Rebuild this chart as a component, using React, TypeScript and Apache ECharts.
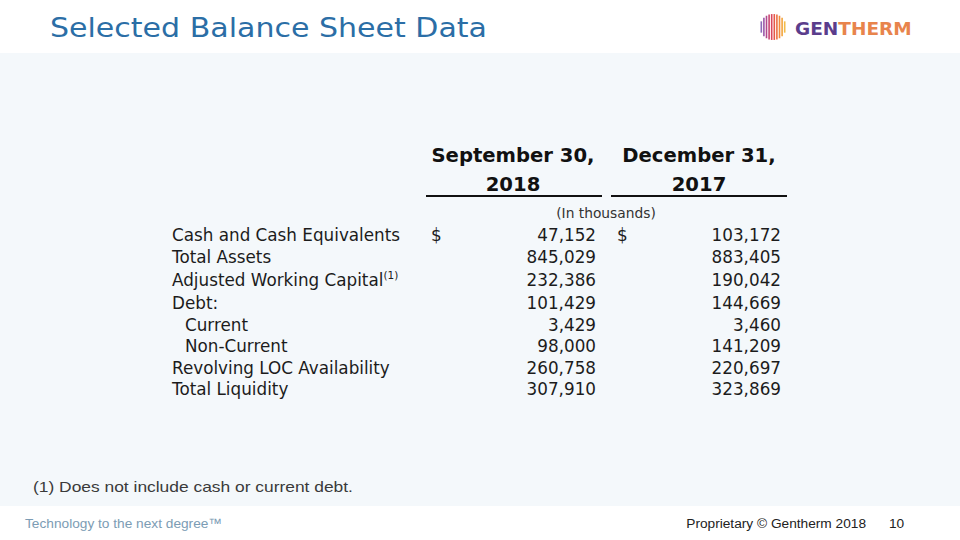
import React, { useEffect, useRef } from "react";
import * as echarts from "echarts";

// ---------- data ----------
const title = "Selected Balance Sheet Data";
const columnHeaders = ["September 30,", "December 31,"];
const columnYears = ["2018", "2017"];
const unitNote = "(In thousands)";
const rowLabels = [
  "Cash and Cash Equivalents",
  "Total Assets",
  "Adjusted Working Capital",
  "Debt:",
  "Current",
  "Non-Current",
  "Revolving LOC Availability",
  "Total Liquidity",
];
const indentedRows = ["Current", "Non-Current"];
const footnotedRows = ["Adjusted Working Capital"];
const dollarRows = ["Cash and Cash Equivalents"];
const sep2018 = [47152, 845029, 232386, 101429, 3429, 98000, 260758, 307910];
const dec2017 = [103172, 883405, 190042, 144669, 3460, 141209, 220697, 323869];
const footnote = "(1) Does not include cash or current debt.";
const tagline = "Technology to the next degree\u2122";
const copyright = "Proprietary \u00A9 Gentherm 2018";
const pageNumber = "10";
const brandA = "GEN";
const brandB = "THERM";

// ---------- layout ----------
const rowY = [235, 257, 280, 303, 325, 346, 368, 389];
const labelX = 172;
const indentX = 185;
const col1Right = 596;
const col2Right = 781;
const col1Dollar = 431;
const col2Dollar = 617;
const tableFont = "'DejaVu Sans', Verdana, sans-serif";
const tableColor = "#1c1c1c";
const tableSize = 16.8;

const fmt = (v: number) => v.toLocaleString("en-US");

function buildGraphics() {
  const g: any[] = [];
  // backgrounds
  g.push({ type: "rect", shape: { x: 0, y: 0, width: 960, height: 540 }, style: { fill: "#ffffff" }, silent: true });
  g.push({ type: "rect", shape: { x: 0, y: 53, width: 960, height: 453 }, style: { fill: "#f4f8fb" }, silent: true });

  // title
  g.push({
    type: "text", x: 50, y: 28, scaleX: 1.155,
    style: { text: title, fill: "#2b6ea6", font: "normal 26px 'DejaVu Sans', sans-serif", verticalAlign: "middle", textAlign: "left" },
  });

  // logo sphere: vertical stripes
  const cx = 773, cy = 27, R = 13;
  const stripeColors = ["#8a6bb8", "#9a55a8", "#b04a8e", "#c84572", "#d9485c", "#e5584a", "#ec6f42", "#f08a3c", "#f2a43c", "#f3bb48"];
  const n = stripeColors.length;
  for (let i = 0; i < n; i++) {
    const dx = -R + (2 * R * (i + 0.5)) / n;
    const h = Math.sqrt(Math.max(0, R * R - dx * dx));
    g.push({
      type: "line",
      shape: { x1: cx + dx, y1: cy - h, x2: cx + dx, y2: cy + h },
      style: { stroke: stripeColors[i], lineWidth: 1.6 },
    });
  }
  g.push({
    type: "text", x: 795, y: 28,
    style: {
      text: `{a|${brandA}}{b|${brandB}}`,
      verticalAlign: "middle",
      rich: {
        a: { fill: "#5b3d8c", font: "bold 18.5px 'DejaVu Sans', sans-serif" },
        b: { fill: "#e8844c", font: "bold 18.5px 'DejaVu Sans', sans-serif" },
      },
    },
  });

  // table header
  const centers = [513, 699];
  const lineSpans = [[426, 602], [611, 787]];
  for (let c = 0; c < 2; c++) {
    g.push({
      type: "text", x: centers[c], y: 155,
      style: { text: columnHeaders[c], fill: "#111", font: `bold 19.6px ${tableFont}`, textAlign: "center", verticalAlign: "middle" },
    });
    g.push({
      type: "text", x: centers[c], y: 184,
      style: { text: columnYears[c], fill: "#111", font: `bold 19.6px ${tableFont}`, textAlign: "center", verticalAlign: "middle" },
    });
    g.push({
      type: "line",
      shape: { x1: lineSpans[c][0], y1: 196, x2: lineSpans[c][1], y2: 196 },
      style: { stroke: "#111", lineWidth: 2 },
    });
  }
  g.push({
    type: "text", x: 606, y: 213,
    style: { text: unitNote, fill: "#333", font: `13.8px ${tableFont}`, textAlign: "center", verticalAlign: "middle" },
  });

  // rows
  rowLabels.forEach((label, i) => {
    const y = rowY[i];
    const x = indentedRows.includes(label) ? indentX : labelX;
    const text = footnotedRows.includes(label) ? `${label}{s|(1)}` : label;
    g.push({
      type: "text", x, y,
      style: {
        text, fill: tableColor, font: `${tableSize}px ${tableFont}`, textAlign: "left", verticalAlign: "middle",
        rich: { s: { font: `10.5px ${tableFont}`, fill: tableColor, verticalAlign: "top", padding: [0, 0, 10, 0] } },
      },
    });
    g.push({
      type: "text", x: col1Right, y,
      style: { text: fmt(sep2018[i]), fill: tableColor, font: `${tableSize}px ${tableFont}`, textAlign: "right", verticalAlign: "middle" },
    });
    g.push({
      type: "text", x: col2Right, y,
      style: { text: fmt(dec2017[i]), fill: tableColor, font: `${tableSize}px ${tableFont}`, textAlign: "right", verticalAlign: "middle" },
    });
    if (dollarRows.includes(label)) {
      [col1Dollar, col2Dollar].forEach((dx) => {
        g.push({
          type: "text", x: dx, y,
          style: { text: "$", fill: tableColor, font: `${tableSize}px ${tableFont}`, textAlign: "left", verticalAlign: "middle" },
        });
      });
    }
  });

  // footnote
  g.push({
    type: "text", x: 33, y: 486, scaleX: 1.16,
    style: { text: footnote, fill: "#3a3a3a", font: "15px 'Liberation Sans', Arial, sans-serif", textAlign: "left", verticalAlign: "middle" },
  });

  // footer
  g.push({
    type: "text", x: 25, y: 523,
    style: { text: tagline, fill: "#7c9cb4", font: "13.7px 'Liberation Sans', Arial, sans-serif", textAlign: "left", verticalAlign: "middle" },
  });
  g.push({
    type: "text", x: 866, y: 523,
    style: { text: copyright, fill: "#222", font: "13.7px 'Liberation Sans', Arial, sans-serif", textAlign: "right", verticalAlign: "middle" },
  });
  g.push({
    type: "text", x: 889, y: 523,
    style: { text: pageNumber, fill: "#222", font: "13.7px 'Liberation Sans', Arial, sans-serif", textAlign: "left", verticalAlign: "middle" },
  });
  return g;
}

export default function App() {
  const ref = useRef<HTMLDivElement>(null);
  useEffect(() => {
    document.body.style.margin = "0";
    if (!ref.current) return;
    const chart = echarts.init(ref.current, undefined, { renderer: "svg" });
    chart.setOption({
      animation: false,
      backgroundColor: "#ffffff",
      graphic: { elements: buildGraphics() },
    });
    return () => chart.dispose();
  }, []);
  return <div ref={ref} style={{ position: "fixed", left: 0, top: 0, width: 960, height: 540 }} />;
}
